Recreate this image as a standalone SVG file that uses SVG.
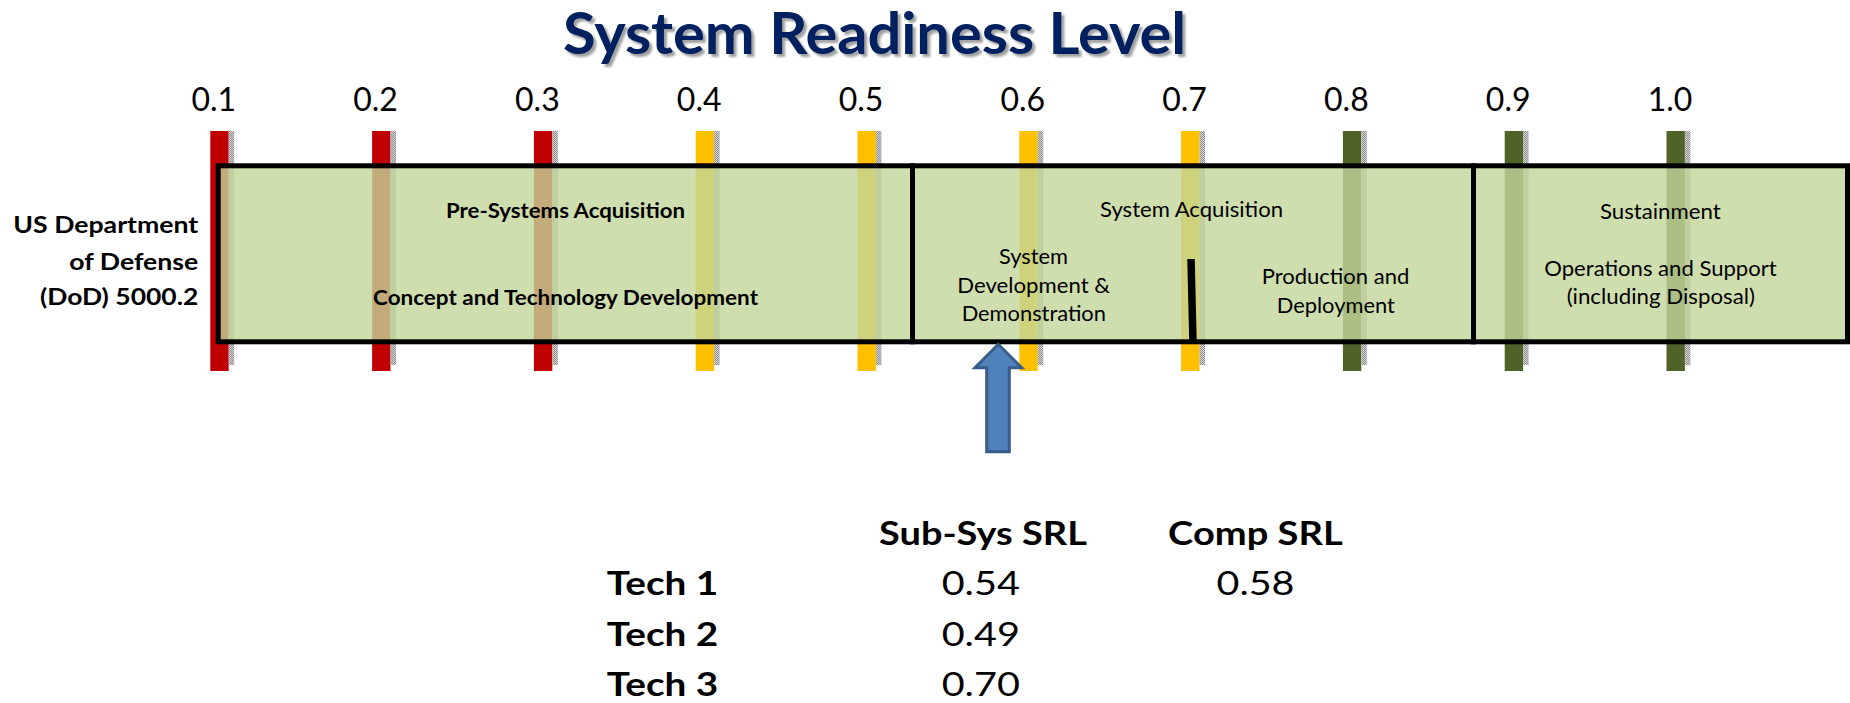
<svg xmlns="http://www.w3.org/2000/svg" width="1850" height="703" viewBox="0 0 1850 703">
<style>
  .t { font-family: Lato, "Open Sans", "Liberation Sans", sans-serif; fill: #000; }
  .b { font-weight: 700; }
  .tick { font-size: 32px; text-anchor: middle; }
  .red { fill: #C00000; }
  .yel { fill: #FFC000; }
  .grn { fill: #4F6228; }
  .sh { fill: url(#chk); }
  .phase { fill: #C3D69B; fill-opacity: 0.8; stroke: #000; stroke-width: 5; }
  .lbl { font-size: 21px; text-anchor: middle; }
  .dod { font-size: 23.5px; font-weight: 700; text-anchor: end; }
  .tbl { font-size: 32.5px; }
  .mid { text-anchor: middle; }
  .ttl { font-family: Lato, "Open Sans", "Liberation Sans", sans-serif; font-weight: 700; font-size: 57px; text-anchor: middle; }
</style>
<defs>
  <pattern id="chk" width="2" height="2" patternUnits="userSpaceOnUse">
    <rect width="2" height="2" fill="#d4d4d4"/>
    <rect width="1" height="1" fill="#8f8f8f"/>
    <rect x="1" y="1" width="1" height="1" fill="#8f8f8f"/>
  </pattern>
  <filter id="blur" x="-5%" y="-20%" width="110%" height="140%"><feGaussianBlur stdDeviation="1.2"/></filter>
</defs>
<rect width="1850" height="703" fill="#fff"/>

<g id="title">
  <text class="ttl" x="877.5" y="57" fill="#a0a0a0" filter="url(#blur)" textLength="623" lengthAdjust="spacingAndGlyphs">System Readiness Level</text>
  <text class="ttl" x="874.5" y="54" fill="#002060" textLength="623" lengthAdjust="spacingAndGlyphs">System Readiness Level</text>
</g>

<g id="scale">
  <g id="lvl-01"><rect class="red" x="210.3" y="131" width="18.4" height="240"/><rect class="sh" x="228.7" y="131" width="5.5" height="234"/><text class="t tick" x="213.8" y="111">0.1</text></g>
  <g id="lvl-02"><rect class="red" x="372.1" y="131" width="18.4" height="240"/><rect class="sh" x="390.5" y="131" width="5.5" height="234"/><text class="t tick" x="375.6" y="111">0.2</text></g>
  <g id="lvl-03"><rect class="red" x="533.9" y="131" width="18.4" height="240"/><rect class="sh" x="552.3" y="131" width="5.5" height="234"/><text class="t tick" x="537.4" y="111">0.3</text></g>
  <g id="lvl-04"><rect class="yel" x="695.7" y="131" width="18.4" height="240"/><rect class="sh" x="714.1" y="131" width="5.5" height="234"/><text class="t tick" x="699.2" y="111">0.4</text></g>
  <g id="lvl-05"><rect class="yel" x="857.5" y="131" width="18.4" height="240"/><rect class="sh" x="875.9" y="131" width="5.5" height="234"/><text class="t tick" x="861" y="111">0.5</text></g>
  <g id="lvl-06"><rect class="yel" x="1019.3" y="131" width="18.4" height="240"/><rect class="sh" x="1037.7" y="131" width="5.5" height="234"/><text class="t tick" x="1022.8" y="111">0.6</text></g>
  <g id="lvl-07"><rect class="yel" x="1181.1" y="131" width="18.4" height="240"/><rect class="sh" x="1199.5" y="131" width="5.5" height="234"/><text class="t tick" x="1184.6" y="111">0.7</text></g>
  <g id="lvl-08"><rect class="grn" x="1342.9" y="131" width="18.4" height="240"/><rect class="sh" x="1361.3" y="131" width="5.5" height="234"/><text class="t tick" x="1346.4" y="111">0.8</text></g>
  <g id="lvl-09"><rect class="grn" x="1504.7" y="131" width="18.4" height="240"/><rect class="sh" x="1523.1" y="131" width="5.5" height="234"/><text class="t tick" x="1508.2" y="111">0.9</text></g>
  <g id="lvl-10"><rect class="grn" x="1666.5" y="131" width="18.4" height="240"/><rect class="sh" x="1684.9" y="131" width="5.5" height="234"/><text class="t tick" x="1670" y="111">1.0</text></g>
</g>

<g id="dod-label">
  <text class="t dod" x="198.3" y="233.3" textLength="185" lengthAdjust="spacingAndGlyphs">US Department</text>
  <text class="t dod" x="198.3" y="270" textLength="129" lengthAdjust="spacingAndGlyphs">of Defense</text>
  <text class="t dod" x="198.3" y="305" textLength="158.3" lengthAdjust="spacingAndGlyphs">(DoD) 5000.2</text>
</g>

<g id="phase-pre">
  <rect class="phase" x="218.2" y="165.8" width="694.3" height="176"/>
  <text class="t b lbl" x="565.5" y="218" font-size="20.5" textLength="239" lengthAdjust="spacingAndGlyphs">Pre-Systems Acquisition</text>
  <text class="t b lbl" x="565.5" y="305" font-size="20.5" textLength="385" lengthAdjust="spacingAndGlyphs">Concept and Technology Development</text>
</g>

<g id="phase-acq">
  <rect class="phase" x="912.5" y="165.8" width="561" height="176"/>
  <text class="t lbl" x="1191.5" y="216.7" textLength="183" lengthAdjust="spacingAndGlyphs">System Acquisition</text>
  <text class="t lbl" x="1033.5" y="264.3" textLength="69" lengthAdjust="spacingAndGlyphs">System</text>
  <text class="t lbl" x="1033.7" y="292.7" textLength="152.7" lengthAdjust="spacingAndGlyphs">Development &amp;</text>
  <text class="t lbl" x="1033.8" y="320.7" textLength="144.3" lengthAdjust="spacingAndGlyphs">Demonstration</text>
  <text class="t lbl" x="1335.5" y="284" textLength="147.6" lengthAdjust="spacingAndGlyphs">Production and</text>
  <text class="t lbl" x="1335.8" y="313" textLength="118.3" lengthAdjust="spacingAndGlyphs">Deployment</text>
  <line x1="1191" y1="259" x2="1193" y2="343" stroke="#000" stroke-width="7.5"/>
</g>

<g id="phase-sus">
  <rect class="phase" x="1473.5" y="165.8" width="374" height="176"/>
  <text class="t lbl" x="1660.3" y="219" textLength="120.7" lengthAdjust="spacingAndGlyphs">Sustainment</text>
  <text class="t lbl" x="1660.5" y="276" textLength="232.4" lengthAdjust="spacingAndGlyphs">Operations and Support</text>
  <text class="t lbl" x="1660.8" y="304" textLength="188.3" lengthAdjust="spacingAndGlyphs">(including Disposal)</text>
</g>

<g id="connectors">
  <polygon points="998.3,344.3 1021.7,367.7 1009.3,367.7 1009.3,451.7 986.7,451.7 986.7,367.7 975,367.7" fill="#4F81BD" stroke="#385D8A" stroke-width="3" stroke-linejoin="miter"/>
</g>

<g id="table">
  <text class="t b tbl mid" x="983" y="545" textLength="208" lengthAdjust="spacingAndGlyphs">Sub-Sys SRL</text>
  <text class="t b tbl mid" x="1255.4" y="545" textLength="174.6" lengthAdjust="spacingAndGlyphs">Comp SRL</text>
  <text class="t b tbl" x="606.7" y="595" textLength="111.6" lengthAdjust="spacingAndGlyphs">Tech 1</text>
  <text class="t b tbl" x="606.7" y="646" textLength="111.6" lengthAdjust="spacingAndGlyphs">Tech 2</text>
  <text class="t b tbl" x="606.7" y="696" textLength="111.6" lengthAdjust="spacingAndGlyphs">Tech 3</text>
  <text class="t tbl mid" x="980.8" y="595" textLength="78.3" lengthAdjust="spacingAndGlyphs">0.54</text>
  <text class="t tbl mid" x="980.8" y="646" textLength="78.3" lengthAdjust="spacingAndGlyphs">0.49</text>
  <text class="t tbl mid" x="980.8" y="696" textLength="78.3" lengthAdjust="spacingAndGlyphs">0.70</text>
  <text class="t tbl mid" x="1255.5" y="595" textLength="78" lengthAdjust="spacingAndGlyphs">0.58</text>
</g>
</svg>
